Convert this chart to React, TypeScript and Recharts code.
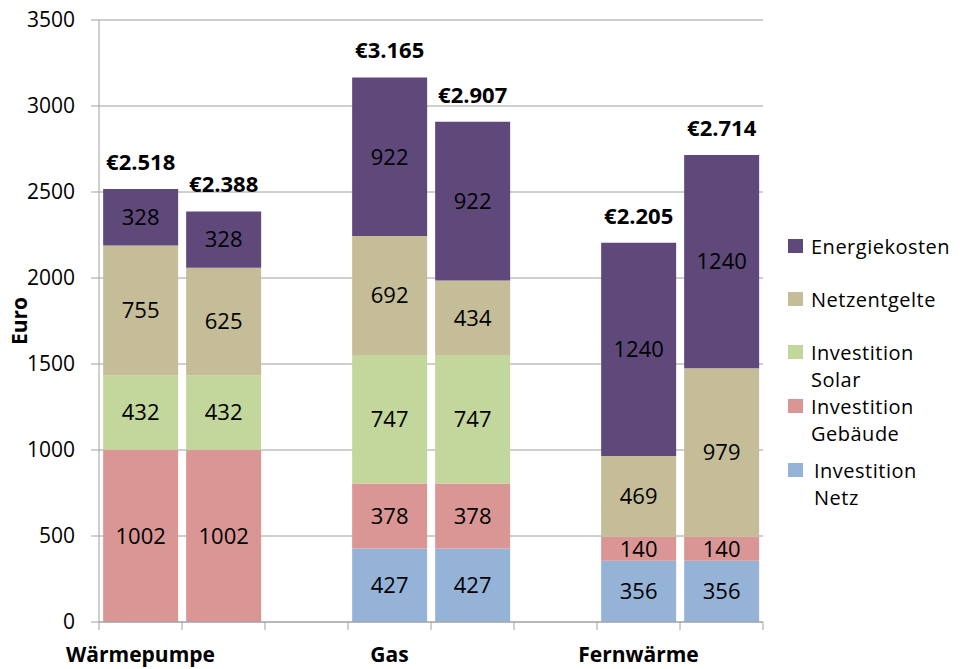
import React from "react";
import {
  BarChart,
  Bar,
  XAxis,
  YAxis,
  CartesianGrid,
  LabelList,
  Legend,
} from "recharts";

const categories = ["wp1", "wp2", "gap1", "gas1", "gas2", "gap2", "fw1", "fw2"];
const groupLabels = ["Wärmepumpe", "", "", "Gas", "", "", "Fernwärme", ""];

const investitionNetz = [0, 0, 0, 427, 427, 0, 356, 356];
const investitionGebaeude = [1002, 1002, 0, 378, 378, 0, 140, 140];
const investitionSolar = [432, 432, 0, 747, 747, 0, 0, 0];
const netzentgelte = [755, 625, 0, 692, 434, 0, 469, 979];
const energiekosten = [328, 328, 0, 922, 922, 0, 1240, 1240];
const totals = ["€2.518", "€2.388", "", "€3.165", "€2.907", "", "€2.205", "€2.714"];

const yTicks = [0, 500, 1000, 1500, 2000, 2500, 3000, 3500];

const series = [
  { key: "netz", name: ["Investition", "Netz"], color: "#95B3D7" },
  { key: "gebaeude", name: ["Investition", "Gebäude"], color: "#D99694" },
  { key: "solar", name: ["Investition", "Solar"], color: "#C3D69B" },
  { key: "netzentgelte", name: ["Netzentgelte"], color: "#C4BD97" },
  { key: "energie", name: ["Energiekosten"], color: "#5F497A" },
];

const data = categories.map((c, i) => ({
  id: c,
  group: groupLabels[i],
  netz: investitionNetz[i],
  gebaeude: investitionGebaeude[i],
  solar: investitionSolar[i],
  netzentgelte: netzentgelte[i],
  energie: energiekosten[i],
  total: totals[i],
}));

const FONT = "'Open Sans', sans-serif";
const AXIS = "#a0a0a0";
const SLOT = 83;

// legend rows, top to bottom (Excel-style uneven spacing)
const legendTops = [0, 53, 106, 160, 224];

function XTick(props: any) {
  const { x, y, index, payload } = props;
  const label = groupLabels[index] ?? payload.value;
  const last = index === categories.length - 1;
  return (
    <g>
      <line x1={x - SLOT / 2} x2={x - SLOT / 2} y1={y} y2={y + 8} stroke={AXIS} />
      {last && <line x1={x + SLOT / 2} x2={x + SLOT / 2} y1={y} y2={y + 8} stroke={AXIS} />}
      {label && (
        <text x={x} y={y + 40} textAnchor="middle" fontSize={21} fontWeight="bold" fill="#000" fontFamily={FONT}>
          {label}
        </text>
      )}
    </g>
  );
}

function LegendBox() {
  const items = [...series].reverse();
  return (
    <div style={{ position: "relative", width: 180, height: 300, fontFamily: FONT, fontSize: 20, letterSpacing: 0.5, color: "#000" }}>
      {items.map((s, i) => (
        <div key={s.key} style={{ position: "absolute", top: legendTops[i], left: 0 }}>
          <div
            style={{
              position: "absolute",
              left: 0,
              top: 6,
              width: 15,
              height: 14,
              background: s.color,
            }}
          />
          <div style={{ position: "absolute", left: s.key === "netz" ? 26 : 23, top: 0, lineHeight: "27px", whiteSpace: "nowrap" }}>
            {s.name.map((n) => (
              <div key={n}>{n}</div>
            ))}
          </div>
        </div>
      ))}
    </div>
  );
}

const segLabel = (v: any) => (v ? v : "");

export default function App() {
  return (
    <div style={{ position: "absolute", left: 0, top: 0, width: 965, height: 669, background: "#fff" }}>
      <BarChart
        width={965}
        height={669}
        data={data}
        margin={{ top: 20, right: 202, bottom: 7, left: 0 }}
        barCategoryGap="5%"
        style={{ fontFamily: FONT }}
      >
        <CartesianGrid vertical={false} stroke={AXIS} />
        <XAxis
          dataKey="id"
          interval={0}
          height={40}
          tickLine={false}
          tickSize={0}
          tickMargin={0}
          axisLine={{ stroke: AXIS }}
          tick={<XTick />}
        />
        <YAxis
          width={99}
          domain={[0, 3500]}
          ticks={yTicks}
          interval={0}
          tickSize={8}
          tickMargin={16}
          tickLine={{ stroke: AXIS }}
          axisLine={{ stroke: AXIS }}
          tick={{ fontSize: 21, fill: "#000", fontFamily: FONT }}
          label={{
            content: (p: any) => {
              const vb = p.viewBox || { x: 0, y: 20, height: 602 };
              const cx = vb.x + 19;
              const cy = vb.y + vb.height / 2;
              return (
                <text
                  transform={`translate(${cx},${cy}) rotate(-90)`}
                  textAnchor="middle"
                  dominantBaseline="central"
                  fontSize={21}
                  fontWeight="bold"
                  fill="#000"
                  fontFamily={FONT}
                >
                  Euro
                </text>
              );
            },
          }}
        />
        <Legend
          layout="vertical"
          align="center"
          verticalAlign="middle"
          wrapperStyle={{ left: 788, top: 233, width: 180 }}
          content={() => <LegendBox />}
        />
        {series.map((s, i) => (
          <Bar key={s.key} dataKey={s.key} name={s.name.join(" ")} stackId="a" fill={s.color} isAnimationActive={false}>
            <LabelList
              dataKey={s.key}
              position="center"
              formatter={segLabel}
              fill="#000"
              fontSize={22}
              fontFamily={FONT}
            />
            {i === series.length - 1 && (
              <LabelList
                dataKey="total"
                position="top"
                offset={19}
                fill="#000"
                fontSize={22}
                fontWeight="bold"
                fontFamily={FONT}
              />
            )}
          </Bar>
        ))}
      </BarChart>
    </div>
  );
}
